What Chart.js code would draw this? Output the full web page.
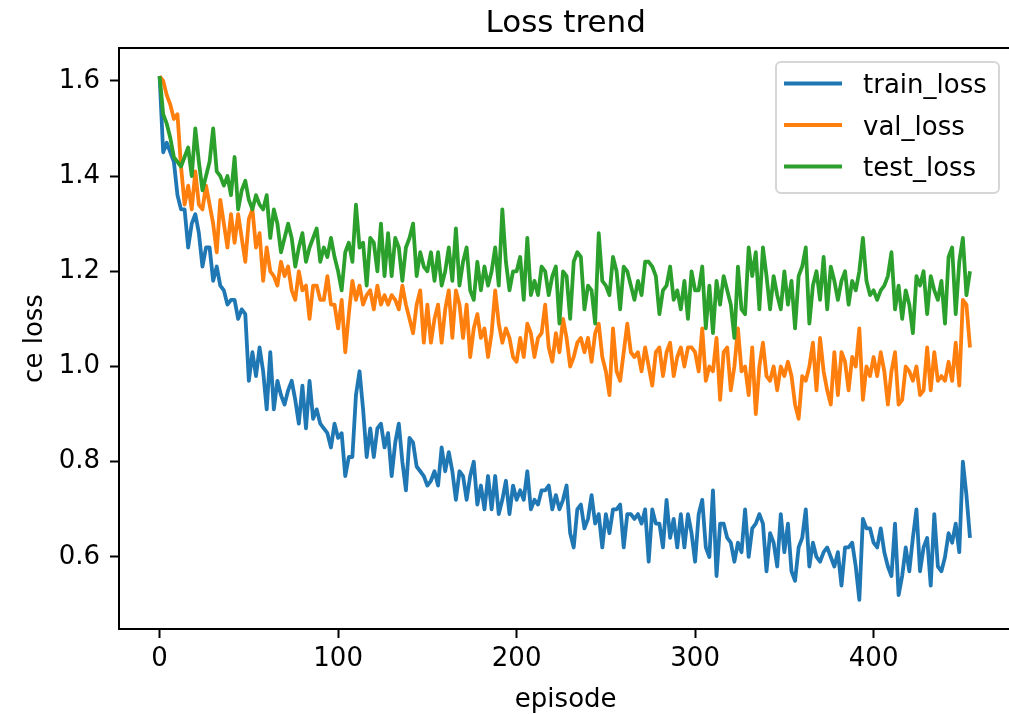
<!DOCTYPE html>
<html>
<head>
<meta charset="utf-8">
<title>Loss trend</title>
<script src="https://cdn.jsdelivr.net/npm/chart.js@4.4.1/dist/chart.umd.min.js"></script>
<style>
  html, body { margin: 0; padding: 0; background: #fff; overflow: hidden; }
  canvas { display: block; }
</style>
</head>
<body>
<canvas id="lossChart" width="1009" height="714"></canvas>
<script>
// losses, one sample every 2 episodes (0 .. 454)
const trainLoss = [
  1.61, 1.45, 1.47, 1.45, 1.43, 1.36, 1.33, 1.33, 1.25, 1.30, 1.32, 1.28, 1.21, 1.25, 1.25, 1.18, 1.21, 1.17, 1.16, 1.13, 1.14, 1.14, 1.10, 1.12, 1.11,
  0.97, 1.03, 0.98, 1.04, 0.99, 0.91, 1.03, 0.91, 0.97, 0.94, 0.92, 0.95, 0.97, 0.93, 0.88, 0.96, 0.87, 0.97, 0.89, 0.91, 0.88, 0.87, 0.86, 0.83, 0.88, 0.85, 0.86, 0.77, 0.81, 0.81, 0.94, 0.99, 0.91,
  0.81, 0.87, 0.81, 0.87, 0.88, 0.83, 0.86, 0.77, 0.84, 0.88, 0.80, 0.74, 0.85, 0.84, 0.79, 0.78, 0.77, 0.75, 0.76, 0.78, 0.75, 0.83, 0.78, 0.82, 0.78, 0.72, 0.78, 0.77, 0.72, 0.77,
  0.80, 0.71, 0.75, 0.70, 0.77, 0.70, 0.77, 0.69, 0.72, 0.76, 0.69, 0.75, 0.72, 0.74, 0.72, 0.78, 0.70, 0.72, 0.71, 0.74, 0.74, 0.75, 0.70, 0.73, 0.70, 0.72, 0.75, 0.65, 0.62,
  0.70, 0.71, 0.66, 0.68, 0.73, 0.67, 0.69, 0.62, 0.69, 0.65, 0.70, 0.70, 0.71, 0.62, 0.69, 0.69, 0.68, 0.69, 0.67, 0.70, 0.59, 0.70, 0.67, 0.67, 0.62, 0.72, 0.64,
  0.68, 0.62, 0.69, 0.62, 0.69, 0.65, 0.59, 0.69, 0.72, 0.62, 0.60, 0.74, 0.56, 0.67, 0.67, 0.64, 0.63, 0.59, 0.63, 0.61, 0.70, 0.60, 0.66, 0.67, 0.69, 0.67, 0.57, 0.65, 0.63, 0.58,
  0.69, 0.61, 0.67, 0.57, 0.55, 0.62, 0.64, 0.70, 0.58, 0.63, 0.60, 0.59, 0.61, 0.62, 0.60, 0.58, 0.61, 0.54, 0.62, 0.62, 0.63, 0.58, 0.51, 0.68, 0.66, 0.66, 0.63, 0.62, 0.66,
  0.61, 0.58, 0.56, 0.67, 0.52, 0.56, 0.62, 0.57, 0.64, 0.70, 0.57, 0.62, 0.64, 0.54, 0.69, 0.58, 0.57, 0.60, 0.65, 0.63, 0.67, 0.61, 0.80, 0.73, 0.64
];
const valLoss = [
  1.61, 1.60, 1.57, 1.55, 1.52, 1.53, 1.42, 1.34, 1.38, 1.33, 1.41, 1.34, 1.33, 1.38, 1.34, 1.30, 1.24, 1.35, 1.30, 1.25, 1.32, 1.26, 1.32, 1.27, 1.22, 1.31, 1.33, 1.25, 1.28,
  1.18, 1.25, 1.20, 1.19, 1.17, 1.22, 1.19, 1.21, 1.16, 1.14, 1.20, 1.16, 1.17, 1.10, 1.17, 1.17, 1.14, 1.14, 1.19, 1.13, 1.13, 1.08, 1.14, 1.03, 1.11, 1.18, 1.14, 1.17, 1.13,
  1.15, 1.16, 1.12, 1.17, 1.13, 1.15, 1.13, 1.15, 1.14, 1.12, 1.17, 1.13, 1.10, 1.07, 1.13, 1.16, 1.05, 1.13, 1.05, 1.10, 1.13, 1.05, 1.12, 1.16, 1.06, 1.16, 1.13, 1.06, 1.13, 1.02,
  1.08, 1.11, 1.06, 1.08, 1.02, 1.07, 1.16, 1.09, 1.05, 1.08, 1.06, 1.02, 1.01, 1.06, 1.02, 1.09, 1.07, 1.02, 1.06, 1.07, 1.13, 1.04, 1.01, 1.07, 1.03, 1.10, 1.06, 1.00, 1.02,
  1.05, 1.06, 1.03, 1.06, 1.01, 1.07, 1.09, 1.02, 0.99, 0.94, 1.08, 0.99, 0.97, 1.03, 1.09, 1.03, 1.02, 1.03, 0.99, 1.04, 1.00, 0.96, 1.03, 1.04, 0.98, 1.03, 1.05, 0.98, 1.02,
  1.04, 1.00, 1.04, 1.04, 1.03, 0.99, 1.08, 0.97, 1.00, 0.99, 1.06, 0.93, 1.03, 1.04, 0.95, 1.00, 1.08, 0.99, 1.00, 0.94, 1.04, 0.90, 1.00, 1.05, 0.98, 0.97, 1.00, 0.95, 1.00, 0.98,
  1.01, 0.98, 0.92, 0.89, 0.98, 0.97, 1.00, 1.05, 0.95, 1.06, 0.99, 0.95, 0.92, 1.03, 0.94, 1.03, 1.01, 0.95, 1.02, 1.00, 1.08, 0.93, 1.00, 0.98, 1.02, 0.98, 1.03, 0.99, 0.92,
  0.99, 1.03, 0.92, 0.93, 1.00, 0.99, 0.97, 1.00, 0.94, 0.95, 1.04, 0.95, 1.03, 0.97, 0.98, 0.97, 1.01, 0.97, 1.05, 0.96, 1.14, 1.13, 1.04
];
const testLoss = [
  1.61, 1.53, 1.51, 1.48, 1.44, 1.43, 1.42, 1.44, 1.46, 1.40, 1.50, 1.43, 1.37, 1.40, 1.43, 1.50, 1.41, 1.40, 1.38, 1.40, 1.36, 1.44, 1.33, 1.37, 1.39, 1.35, 1.33, 1.36, 1.34,
  1.33, 1.36, 1.27, 1.33, 1.30, 1.24, 1.27, 1.30, 1.27, 1.21, 1.25, 1.28, 1.22, 1.25, 1.27, 1.29, 1.22, 1.25, 1.23, 1.27, 1.23, 1.20, 1.16, 1.24, 1.26, 1.22, 1.34, 1.25, 1.26,
  1.17, 1.27, 1.26, 1.20, 1.30, 1.19, 1.28, 1.19, 1.27, 1.25, 1.18, 1.25, 1.27, 1.30, 1.19, 1.24, 1.21, 1.20, 1.24, 1.18, 1.24, 1.17, 1.20, 1.25, 1.18, 1.29, 1.17, 1.22, 1.25, 1.16,
  1.14, 1.22, 1.16, 1.21, 1.17, 1.20, 1.25, 1.17, 1.33, 1.22, 1.16, 1.20, 1.20, 1.23, 1.14, 1.27, 1.15, 1.18, 1.15, 1.21, 1.20, 1.15, 1.19, 1.21, 1.09, 1.20, 1.19, 1.10, 1.22,
  1.24, 1.23, 1.12, 1.17, 1.16, 1.09, 1.28, 1.18, 1.17, 1.15, 1.23, 1.20, 1.12, 1.21, 1.20, 1.17, 1.14, 1.18, 1.15, 1.22, 1.22, 1.21, 1.19, 1.11, 1.16, 1.17, 1.21, 1.14, 1.16,
  1.12, 1.18, 1.10, 1.20, 1.16, 1.16, 1.21, 1.08, 1.17, 1.07, 1.18, 1.13, 1.19, 1.16, 1.13, 1.06, 1.21, 1.12, 1.11, 1.25, 1.19, 1.24, 1.12, 1.25, 1.19, 1.12, 1.19, 1.15, 1.12, 1.20,
  1.13, 1.18, 1.08, 1.19, 1.21, 1.25, 1.09, 1.17, 1.20, 1.14, 1.23, 1.12, 1.21, 1.18, 1.14, 1.18, 1.20, 1.13, 1.18, 1.16, 1.20, 1.27, 1.18, 1.15, 1.16, 1.14, 1.16, 1.17, 1.19,
  1.24, 1.12, 1.17, 1.10, 1.16, 1.13, 1.07, 1.19, 1.17, 1.20, 1.11, 1.19, 1.16, 1.14, 1.18, 1.09, 1.23, 1.25, 1.11, 1.22, 1.27, 1.15, 1.20
];
const episodeStep = 2;
const episodes = trainLoss.map((_, i) => i * episodeStep);

const seriesNames = ['train_loss', 'val_loss', 'test_loss'];
const seriesData = [trainLoss, valLoss, testLoss];
const seriesColors = ['#1f77b4', '#ff7f0e', '#2ca02c'];

const xTicks = [0, 100, 200, 300, 400];
const xTickLabels = ['0', '100', '200', '300', '400'];
const yTicks = [0.6, 0.8, 1.0, 1.2, 1.4, 1.6];
const yTickLabels = ['0.6', '0.8', '1.0', '1.2', '1.4', '1.6'];

const FONT = '"DejaVu Sans", "Liberation Sans", sans-serif';

// matplotlib-like frame, title, axis labels and legend
const decorations = {
  id: 'decorations',
  afterDraw(chart) {
    const { ctx, chartArea: area, scales } = chart;
    const midX = scales.x.getPixelForValue(227.5); // centre of the full axes

    ctx.save();
    // top spine
    ctx.strokeStyle = '#000';
    ctx.lineWidth = 2;
    ctx.beginPath();
    ctx.moveTo(area.left - 1, area.top);
    ctx.lineTo(area.right, area.top);
    ctx.stroke();

    ctx.fillStyle = '#000';
    ctx.textAlign = 'center';
    ctx.textBaseline = 'alphabetic';
    ctx.font = '31px ' + FONT;
    ctx.fillText('Loss trend', midX, 32);

    ctx.font = '26px ' + FONT;
    ctx.fillText('episode', midX, 707);

    ctx.save();
    ctx.translate(42, (area.top + area.bottom) / 2);
    ctx.rotate(-Math.PI / 2);
    ctx.fillText('ce loss', 0, 0);
    ctx.restore();

    // legend box
    const box = { x: 776, y: 62, w: 223, h: 131 };
    ctx.beginPath();
    ctx.roundRect(box.x, box.y, box.w, box.h, 5);
    ctx.fillStyle = 'rgba(255,255,255,0.8)';
    ctx.fill();
    ctx.strokeStyle = 'rgba(204,204,204,0.8)';
    ctx.lineWidth = 2;
    ctx.stroke();

    ctx.textAlign = 'left';
    ctx.font = '26px ' + FONT;
    seriesNames.forEach((name, i) => {
      const y = 83.5 + i * 41.5;
      ctx.strokeStyle = seriesColors[i];
      ctx.lineWidth = 3.8;
      ctx.beginPath();
      ctx.moveTo(784, y);
      ctx.lineTo(842, y);
      ctx.stroke();
      ctx.fillStyle = '#000';
      ctx.fillText(name, 863, y + 9.5);
    });
    ctx.restore();
  }
};

const ctx = document.getElementById('lossChart').getContext('2d');
new Chart(ctx, {
  type: 'line',
  data: {
    datasets: seriesNames.map((name, i) => ({
      label: name,
      data: episodes.map((ep, j) => ({ x: ep, y: seriesData[i][j] })),
      borderColor: seriesColors[i],
      backgroundColor: seriesColors[i],
      borderWidth: 3.8,
      borderJoinStyle: 'round',
      pointRadius: 0,
      tension: 0,
      fill: false,
      order: seriesNames.length - i // test drawn on top, like matplotlib
    }))
  },
  options: {
    responsive: false,
    animation: false,
    devicePixelRatio: 1,
    layout: { padding: { top: 48, left: 0, right: 0, bottom: 0 } },
    plugins: {
      legend: { display: false },
      title: { display: false },
      tooltip: { enabled: false }
    },
    scales: {
      x: {
        type: 'linear',
        min: -22.75,
        max: 475.85,
        afterBuildTicks: (scale) => { scale.ticks = xTicks.map(v => ({ value: v })); },
        afterFit: (scale) => { scale.height = 85; },
        grid: { display: true, drawOnChartArea: false, drawTicks: true, tickLength: 9, tickWidth: 2, tickColor: '#000' },
        border: { display: true, color: '#000', width: 2 },
        ticks: {
          color: '#000',
          font: { family: FONT, size: 26 },
          padding: 6,
          maxRotation: 0,
          autoSkip: false,
          callback: (value) => xTickLabels[xTicks.indexOf(value)]
        }
      },
      y: {
        min: 0.4487,
        max: 1.669,
        afterBuildTicks: (scale) => { scale.ticks = yTicks.map(v => ({ value: v })); },
        afterFit: (scale) => { scale.width = 119; },
        grid: { display: true, drawOnChartArea: false, drawTicks: true, tickLength: 9, tickWidth: 2, tickColor: '#000' },
        border: { display: true, color: '#000', width: 2 },
        ticks: {
          color: '#000',
          font: { family: FONT, size: 26 },
          padding: 10,
          autoSkip: false,
          callback: (value) => yTickLabels[yTicks.indexOf(value)]
        }
      }
    }
  },
  plugins: [decorations]
});
</script>
</body>
</html>
